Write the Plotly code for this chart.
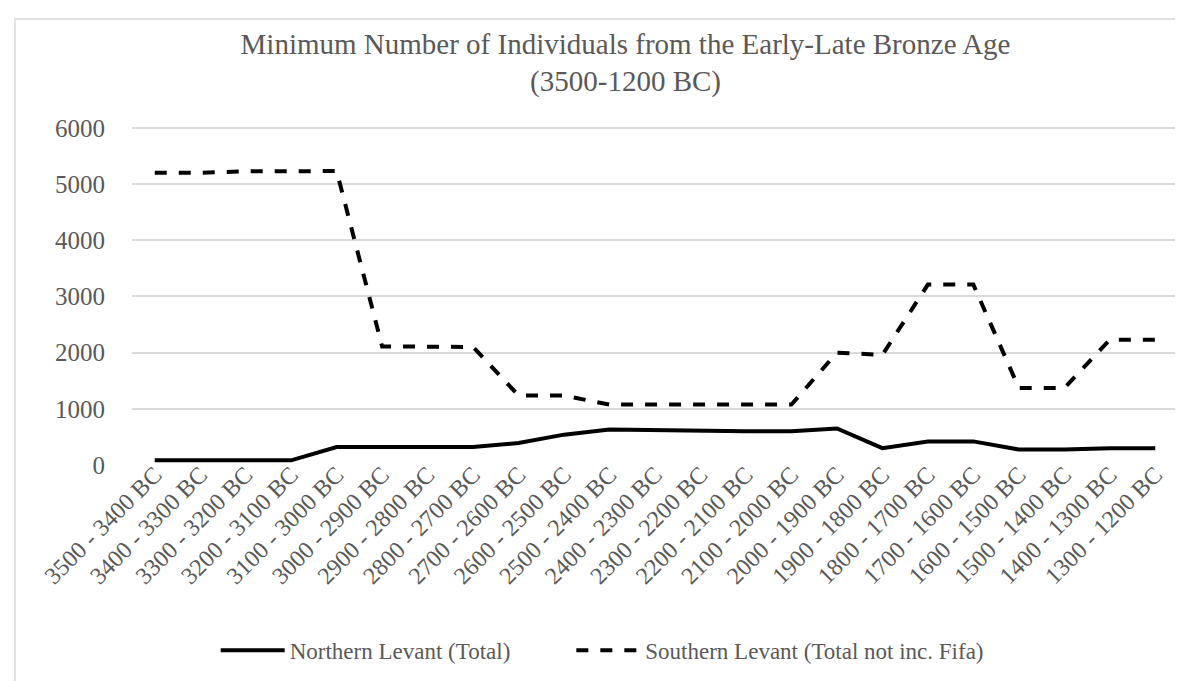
import plotly.graph_objects as go

categories = ["3500 - 3400 BC", "3400 - 3300 BC", "3300 - 3200 BC", "3200 - 3100 BC",
              "3100 - 3000 BC", "3000 - 2900 BC", "2900 - 2800 BC", "2800 - 2700 BC",
              "2700 - 2600 BC", "2600 - 2500 BC", "2500 - 2400 BC", "2400 - 2300 BC",
              "2300 - 2200 BC", "2200 - 2100 BC", "2100 - 2000 BC", "2000 - 1900 BC",
              "1900 - 1800 BC", "1800 - 1700 BC", "1700 - 1600 BC", "1600 - 1500 BC",
              "1500 - 1400 BC", "1400 - 1300 BC", "1300 - 1200 BC"]

northern = [83, 83, 83, 83, 320, 320, 320, 320, 390, 540, 630, 620, 600, 600, 600,
            650, 300, 420, 420, 275, 275, 300, 300]

southern = [5200, 5200, 5225, 5230, 5230, 2110, 2110, 2100, 1235, 1235, 1075, 1075,
            1075, 1075, 1075, 2000, 1960, 3210, 3210, 1370, 1370, 2230, 2230]

yticks = [0, 1000, 2000, 3000, 4000, 5000, 6000]

FONT = "Liberation Serif, Times New Roman, serif"
GREY = "#595959"

fig = go.Figure()
fig.add_trace(go.Scatter(x=categories, y=northern, mode="lines",
                         name="Northern Levant (Total)", legend="legend",
                         line=dict(color="black", width=4)))
fig.add_trace(go.Scatter(x=categories, y=southern, mode="lines",
                         name="Southern Levant (Total not inc. Fifa)", legend="legend2",
                         line=dict(color="black", width=4, dash="dash")))

legend_common = dict(orientation="h", xanchor="left", y=-0.545, yanchor="middle",
                     font=dict(family=FONT, size=23, color=GREY), itemwidth=64,
                     bgcolor="rgba(0,0,0,0)")

fig.update_layout(
    width=1183, height=681,
    margin=dict(l=124, r=13, t=117, b=224),
    paper_bgcolor="white", plot_bgcolor="white",
    font=dict(family=FONT, color=GREY, size=23),
    title=dict(text="Minimum Number of Individuals from the Early-Late Bronze Age<br>(3500-1200 BC)",
               x=0.522, xanchor="center", y=0.933, yanchor="top",
               font=dict(family=FONT, size=29, color=GREY)),
    showlegend=True,
    legend=dict(x=0.08, **legend_common),
    legend2=dict(x=0.42, **legend_common),
    xaxis=dict(type="category", range=[-0.5, 22.5], tickangle=-45, showgrid=False,
               showline=False, ticks="", automargin=False, ticklabelstandoff=-10,
               tickfont=dict(family=FONT, size=24, color=GREY)),
    yaxis=dict(range=[0, 6050], tickvals=yticks, showgrid=True, gridcolor="#d9d9d9",
               gridwidth=1.5, zeroline=False, showline=False, ticks="", automargin=False,
               ticklabelstandoff=26,
               tickfont=dict(family=FONT, size=25, color=GREY)),
    shapes=[dict(type="rect", xref="paper", yref="paper",
                 x0=(7 - 124) / 1046, x1=(1200 - 124) / 1046,
                 y0=(457 - 700) / 340, y1=(457 - 11) / 340,
                 line=dict(color="#d9d9d9", width=1.5), layer="below")],
)

fig.write_html("out.html")
